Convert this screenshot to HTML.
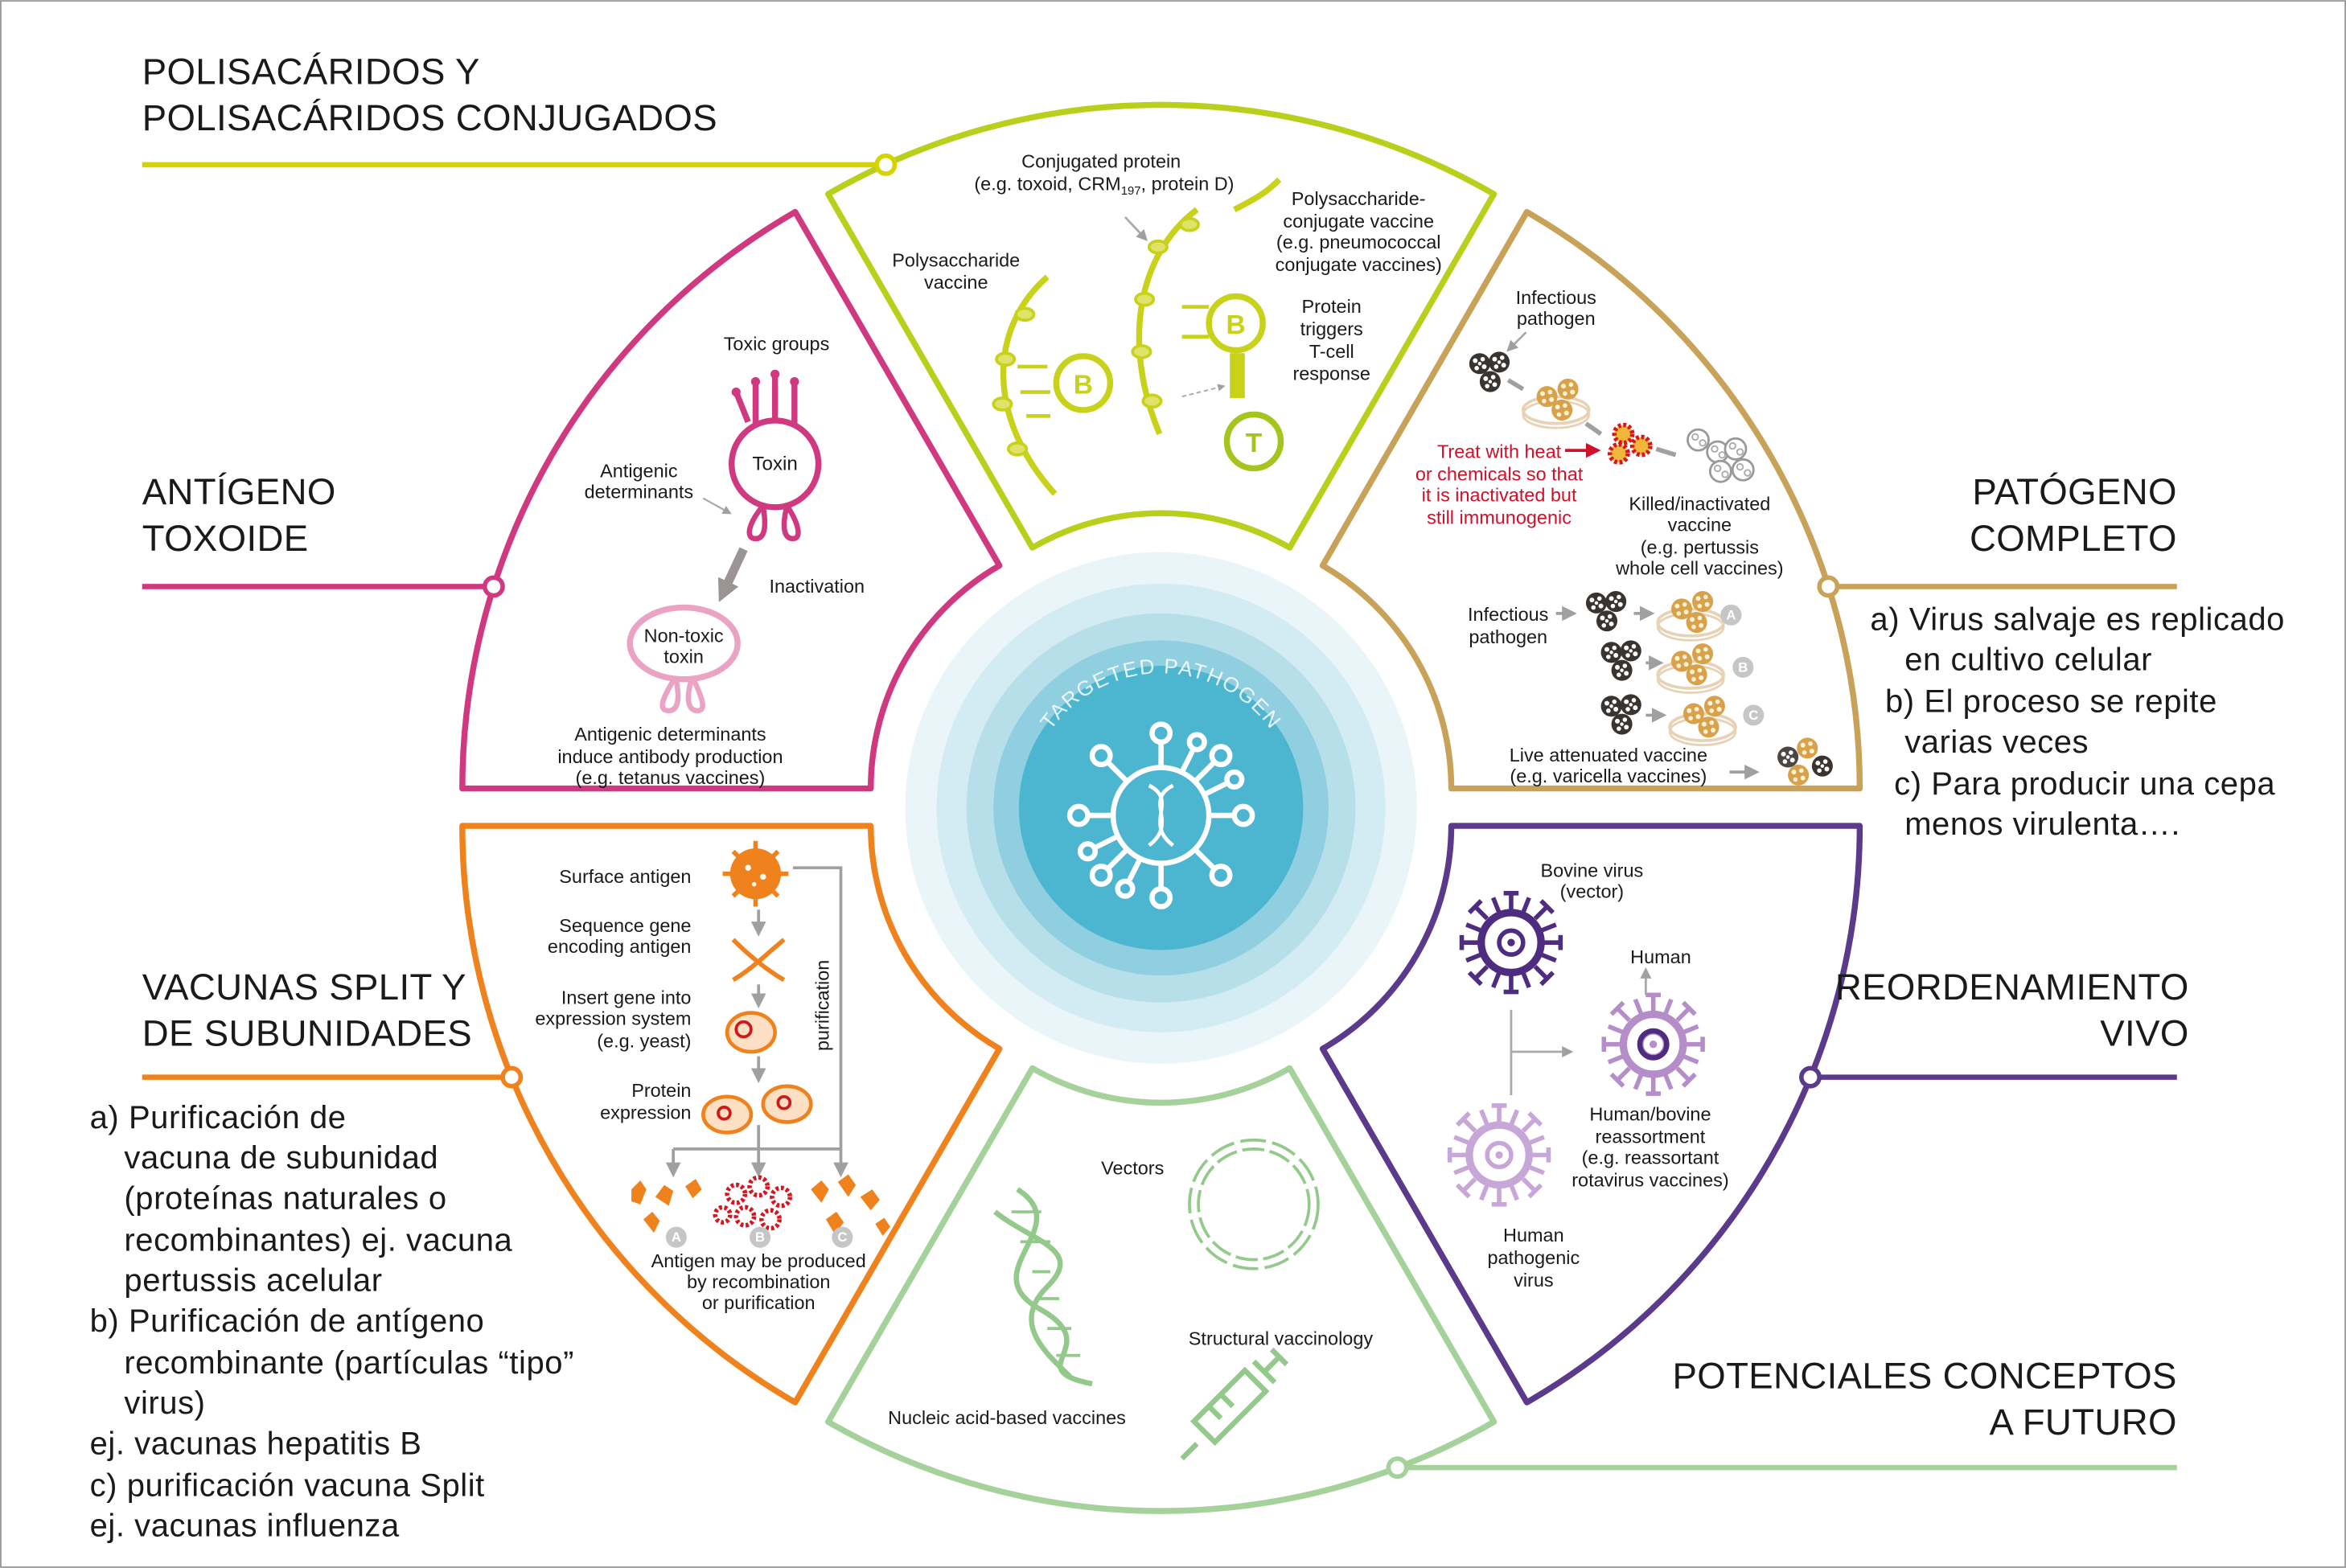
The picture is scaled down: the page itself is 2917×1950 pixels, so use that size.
<!DOCTYPE html>
<html><head><meta charset="utf-8"><style>
html,body{margin:0;padding:0;background:#fff;}
svg{display:block;}
.t{font-family:"Liberation Sans",Arial,sans-serif;font-size:24.5px;fill:#1a1a1a;letter-spacing:0.2px;}
.b{font-family:"Liberation Sans",Arial,sans-serif;font-size:21.5px;fill:#1a1a1a;letter-spacing:0.3px;}
.s{font-family:"Liberation Sans",Arial,sans-serif;font-size:12.6px;fill:#1a1a1a;text-anchor:middle;}
.r{fill:#d0102a;}
</style></head><body>
<svg width="2917" height="1950" viewBox="0 0 1568 1048" xmlns="http://www.w3.org/2000/svg">
<defs>
<g id="ball"><circle r="7" fill="#3a3430"/><circle cx="-3" cy="-2" r="1.6" fill="#fff"/><circle cx="2" cy="-3" r="1.5" fill="#fff"/><circle cx="3" cy="2" r="1.6" fill="#fff"/><circle cx="-2" cy="3" r="1.5" fill="#fff"/><circle cx="0" cy="0" r="1.2" fill="#fff"/></g>
<g id="oball"><circle r="7" fill="#d9a24a"/><circle cx="-3" cy="-2" r="1.6" fill="#fff3d8"/><circle cx="2" cy="-3" r="1.5" fill="#fff3d8"/><circle cx="3" cy="2" r="1.6" fill="#fff3d8"/><circle cx="-2" cy="3" r="1.5" fill="#fff3d8"/></g>
<g id="gball"><circle r="7" fill="#fff" stroke="#9a9a9a" stroke-width="1.5"/><circle cx="-2" cy="-2" r="2" fill="none" stroke="#aaa"/><circle cx="3" cy="2" r="2" fill="none" stroke="#aaa"/></g>
<g id="rball"><circle r="6" fill="#f2b63a" stroke="#d8141e" stroke-width="3" stroke-dasharray="2 1.5"/></g>
<g id="cluster"><use href="#ball" x="-6" y="-5"/><use href="#ball" x="7" y="-6"/><use href="#ball" x="1" y="7"/></g>
<g id="ocluster"><use href="#oball" x="-6" y="-3"/><use href="#oball" x="8" y="-8"/><use href="#oball" x="4" y="6"/></g>
<g id="dish"><ellipse cx="0" cy="6" rx="22" ry="9" fill="none" stroke="#e8d2b6" stroke-width="2"/><ellipse cx="0" cy="9" rx="22" ry="9" fill="none" stroke="#e8d2b6" stroke-width="1.5"/><use href="#ocluster"/></g>
<g id="spiky"><circle r="20" fill="none" stroke="currentColor" stroke-width="5"/><circle r="8" fill="none" stroke="currentColor" stroke-width="3"/><circle r="2.5" fill="currentColor"/>
<g stroke="currentColor" stroke-width="3" fill="none">
<path d="M0-22V-33M-5-33H5"/><path d="M0 22V33M-5 33H5"/><path d="M22 0H33M33-5V5"/><path d="M-22 0H-33M-33-5V5"/>
<path d="M16-16L24-24M20-28L28-20"/><path d="M-16-16L-24-24M-20-28L-28-20"/><path d="M16 16L24 24M20 28L28 20"/><path d="M-16 16L-24 24M-20 28L-28 20"/>
<path d="M8-20L12-30M-8-20L-12-30M8 20L12 30M-8 20L-12 30M20 8L30 12M20-8L30-12M-20 8L-30 12M-20-8L-30-12"/></g></g>
<marker id="ah" viewBox="0 0 10 10" refX="8" refY="5" markerWidth="5" markerHeight="5" orient="auto"><path d="M0 0L10 5L0 10z" fill="#a0a0a0"/></marker>
<marker id="ah2" viewBox="0 0 10 10" refX="6" refY="5" markerWidth="2.5" markerHeight="2.5" orient="auto"><path d="M0 0L10 5L0 10z" fill="#9a9494"/></marker>
<marker id="ahr" viewBox="0 0 10 10" refX="8" refY="5" markerWidth="5" markerHeight="5" orient="auto"><path d="M0 0L10 5L0 10z" fill="#d0102a"/></marker>
<path id="arcT" d="M686,540 A90,90 0 0 1 866,540"/>
</defs>
<rect x="0.5" y="0.5" width="1567" height="1047" fill="#fff" stroke="#9a9a9a" stroke-width="1"/>

<g stroke-width="3.5" fill="none">
<line x1="95" y1="110" x2="586" y2="110" stroke="#d6d400"/>
<line x1="95" y1="392" x2="324" y2="392" stroke="#d0387f"/>
<line x1="95" y1="720" x2="336" y2="720" stroke="#f0821e"/>
<line x1="1228" y1="392" x2="1455" y2="392" stroke="#c9a25a"/>
<line x1="1216" y1="720" x2="1455" y2="720" stroke="#5b3a8c"/>
<line x1="940" y1="981" x2="1455" y2="981" stroke="#a4d29a"/>
</g>

<g fill="none" stroke-width="4" stroke-linejoin="round">
<path d="M553.5,129.6 A445,445 0 0 1 998.5,129.6 L862,366 A172,172 0 0 0 690,366 Z" stroke="#b8cf1c"/>
<path d="M1020.5,141.6 A445,445 0 0 1 1243,527 L970,527 A172,172 0 0 0 884,378 Z" stroke="#c9a25a"/>
<path d="M1243,552 A445,445 0 0 1 1020.5,937.4 L884,701 A172,172 0 0 0 970,552 Z" stroke="#5b3a8c"/>
<path d="M998.5,950.4 A445,445 0 0 1 553.5,950.4 L690,714 A172,172 0 0 0 862,714 Z" stroke="#a4d29a"/>
<path d="M531.5,937.4 A445,445 0 0 1 309,552 L582,552 A172,172 0 0 0 668,701 Z" stroke="#f0821e"/>
<path d="M309,527 A445,445 0 0 1 531.5,141.6 L668,378 A172,172 0 0 0 582,527 Z" stroke="#d0387f"/>
</g>
<g fill="#fff" stroke-width="3">
<circle cx="592" cy="110" r="6" stroke="#d6d400"/>
<circle cx="330" cy="392" r="6" stroke="#d0387f"/>
<circle cx="342" cy="720" r="6" stroke="#f0821e"/>
<circle cx="1222" cy="392" r="6" stroke="#c9a25a"/>
<circle cx="1210" cy="720" r="6" stroke="#5b3a8c"/>
<circle cx="934" cy="981" r="6" stroke="#a4d29a"/>
</g>

<circle cx="776" cy="540" r="171" fill="#eaf5f9"/>
<circle cx="776" cy="540" r="150" fill="#d3ebf2"/>
<circle cx="776" cy="540" r="130" fill="#b7dfea"/>
<circle cx="776" cy="540" r="112" fill="#8fcfe0"/>
<circle cx="776" cy="540" r="95" fill="#4cb6d0"/>
<text class="s" style="fill:#fff;font-size:14px;letter-spacing:1px;opacity:.85"><textPath href="#arcT" startOffset="50%">TARGETED PATHOGEN</textPath></text>
<g stroke="#fff" stroke-width="3.5" fill="none">
<circle cx="776" cy="545" r="32"/>
<path d="M776,513 V497 M776,577 V593 M744,545 H728 M808,545 H824 M753,522 L741,510 M799,522 L811,510 M753,568 L741,580 M799,568 L811,580 M790,516 L797,502 M762,574 L755,588 M805,531 L819,524 M747,559 L733,566"/>
<circle cx="776" cy="490" r="6"/><circle cx="776" cy="600" r="6"/><circle cx="721" cy="545" r="6"/><circle cx="831" cy="545" r="6"/>
<circle cx="736" cy="505" r="6"/><circle cx="816" cy="505" r="6"/><circle cx="736" cy="585" r="6"/><circle cx="816" cy="585" r="6"/>
<circle cx="800" cy="496" r="5"/><circle cx="752" cy="594" r="5"/><circle cx="825" cy="521" r="5"/><circle cx="727" cy="569" r="5"/>
<path d="M768,525 C788,535 764,550 784,565 M784,525 C764,535 788,550 768,565" stroke-width="2.5"/>
</g>

<text class="t" x="95" y="56">POLISACÁRIDOS Y</text>
<text class="t" x="95" y="87">POLISACÁRIDOS CONJUGADOS</text>
<text class="t" x="95" y="337">ANTÍGENO</text>
<text class="t" x="95" y="368">TOXOIDE</text>
<text class="t" x="1455" y="337" text-anchor="end">PATÓGENO</text>
<text class="t" x="1455" y="368" text-anchor="end">COMPLETO</text>
<text class="t" x="95" y="668">VACUNAS SPLIT Y</text>
<text class="t" x="95" y="699">DE SUBUNIDADES</text>
<text class="t" x="1463" y="668" text-anchor="end">REORDENAMIENTO</text>
<text class="t" x="1463" y="699" text-anchor="end">VIVO</text>
<text class="t" x="1455" y="928" text-anchor="end">POTENCIALES CONCEPTOS</text>
<text class="t" x="1455" y="959" text-anchor="end">A FUTURO</text>

<g class="b">
<text x="1250" y="421">a) Virus salvaje es replicado</text>
<text x="1273" y="448">en cultivo celular</text>
<text x="1260" y="476">b) El proceso se repite</text>
<text x="1273" y="503">varias veces</text>
<text x="1266" y="531">c) Para producir una cepa</text>
<text x="1273" y="558">menos virulenta….</text>
</g>
<g class="b">
<text x="60" y="754">a) Purificación de</text>
<text x="83" y="781">vacuna de subunidad</text>
<text x="83" y="808">(proteínas naturales o</text>
<text x="83" y="836">recombinantes) ej. vacuna</text>
<text x="83" y="863">pertussis acelular</text>
<text x="60" y="890">b) Purificación de antígeno</text>
<text x="83" y="918">recombinante (partículas “tipo”</text>
<text x="83" y="945">virus)</text>
<text x="60" y="972">ej. vacunas hepatitis B</text>
<text x="60" y="1000">c) purificación vacuna Split</text>
<text x="60" y="1027">ej. vacunas influenza</text>
</g>

<g class="s">
<text x="736" y="112">Conjugated protein</text>
<text x="738" y="127">(e.g. toxoid, CRM<tspan font-size="8" dy="3">197</tspan><tspan dy="-3">, protein D)</tspan></text>
<text x="908" y="137">Polysaccharide-</text><text x="908" y="152">conjugate vaccine</text><text x="908" y="166">(e.g. pneumococcal</text><text x="908" y="181">conjugate vaccines)</text>
<text x="639" y="178">Polysaccharide</text><text x="639" y="193">vaccine</text>
<text x="890" y="209">Protein</text><text x="890" y="224">triggers</text><text x="890" y="239">T-cell</text><text x="890" y="254">response</text>
</g>
<g fill="none" stroke="#c8d21a" stroke-width="4">
<path d="M700,185 C660,220 660,280 705,330"/>
<path d="M800,140 C760,170 750,230 775,290"/>
<path d="M825,140 C845,130 850,125 855,120"/>
</g>
<g fill="#dfe36a" stroke="#c8d21a" stroke-width="2">
<ellipse cx="685" cy="210" rx="6" ry="4"/><ellipse cx="672" cy="240" rx="6" ry="4"/><ellipse cx="670" cy="270" rx="6" ry="4"/><ellipse cx="680" cy="300" rx="6" ry="4"/>
<ellipse cx="774" cy="165" rx="6" ry="4"/><ellipse cx="765" cy="200" rx="6" ry="4"/><ellipse cx="763" cy="235" rx="6" ry="4"/><ellipse cx="770" cy="268" rx="6" ry="4"/><ellipse cx="795" cy="150" rx="6" ry="4"/>
</g>
<g stroke="#c8d21a" stroke-width="2.5" fill="none"><path d="M680,245 H700 M682,262 H702 M686,278 H702 M790,205 H808 M790,225 H808"/></g>
<circle cx="724" cy="256" r="18" fill="#fff" stroke="#c8d21a" stroke-width="4"/>
<text x="724" y="263" class="s" style="font-size:18px;fill:#c8d21a;font-weight:bold">B</text>
<circle cx="826" cy="216" r="18" fill="#fff" stroke="#c8d21a" stroke-width="4"/>
<text x="826" y="223" class="s" style="font-size:18px;fill:#c8d21a;font-weight:bold">B</text>
<rect x="822" y="236" width="10" height="30" fill="#c8d21a"/>
<circle cx="838" cy="295" r="18" fill="#fff" stroke="#a6c41e" stroke-width="4"/>
<text x="838" y="302" class="s" style="font-size:18px;fill:#a6c41e;font-weight:bold">T</text>
<line x1="790" y1="265" x2="818" y2="258" stroke="#aaa" stroke-dasharray="3 2" marker-end="url(#ah)"/>
<line x1="752" y1="145" x2="766" y2="160" stroke="#aaa" stroke-width="1.5" marker-end="url(#ah)"/>

<g class="s">
<text x="519" y="234">Toxic groups</text>
<text x="427" y="319">Antigenic</text><text x="427" y="333">determinants</text>
<text x="546" y="396">Inactivation</text>
<text x="448" y="495">Antigenic determinants</text><text x="448" y="510">induce antibody production</text><text x="448" y="524">(e.g. tetanus vaccines)</text>
</g>
<g stroke="#d0387f" stroke-width="4" fill="none">
<circle cx="518" cy="310" r="29"/>
<path d="M505,283 V255 M518,281 V250 M531,283 V255 M500,282 L492,262"/>
<path d="M510,338 C500,350 498,360 505,360 C512,360 512,350 510,338 M526,338 C534,350 536,360 530,360 C523,360 523,350 526,338" stroke-width="3.5"/>
</g>
<g fill="#d0387f"><circle cx="505" cy="255" r="3"/><circle cx="518" cy="250" r="3"/><circle cx="531" cy="255" r="3"/><circle cx="492" cy="262" r="3"/></g>
<text x="518" y="314" class="s" style="font-size:13px">Toxin</text>
<line x1="470" y1="333" x2="488" y2="343" stroke="#aaa" stroke-width="1.2" marker-end="url(#ah)"/>
<path d="M497,367 L483,397" stroke="#9a9494" stroke-width="6" marker-end="url(#ah2)"/>
<g stroke="#eaa3c4" stroke-width="4" fill="none">
<ellipse cx="457" cy="430" rx="36" ry="24"/>
<path d="M450,455 C442,468 440,475 447,475 C454,475 454,465 452,455 M464,455 C470,468 472,475 466,475 C459,475 459,465 462,455" stroke-width="3.5"/>
</g>
<text x="457" y="429" class="s">Non-toxic</text><text x="457" y="443" class="s">toxin</text>

<g class="s">
<text x="1040" y="203">Infectious</text><text x="1040" y="217">pathogen</text>
<text x="1136" y="341">Killed/inactivated</text><text x="1136" y="355">vaccine</text><text x="1136" y="370">(e.g. pertussis</text><text x="1136" y="384">whole cell vaccines)</text>
<text x="1008" y="415">Infectious</text><text x="1008" y="430">pathogen</text>
<text x="1075" y="509">Live attenuated vaccine</text><text x="1075" y="523">(e.g. varicella vaccines)</text>
</g>
<g class="s r"><text x="1002" y="306">Treat with heat</text><text x="1002" y="321">or chemicals so that</text><text x="1002" y="335">it is inactivated but</text><text x="1002" y="350">still immunogenic</text></g>
<line x1="1046" y1="301" x2="1068" y2="301" stroke="#d0102a" stroke-width="2" marker-end="url(#ahr)"/>
<line x1="1020" y1="222" x2="1008" y2="234" stroke="#aaa" stroke-width="1.5" marker-end="url(#ah)"/>
<use href="#cluster" x="995" y="248"/>
<use href="#dish" x="1040" y="268"/>
<use href="#rball" x="1085" y="290"/><use href="#rball" x="1082" y="303"/><use href="#rball" x="1097" y="298"/>
<use href="#gball" x="1135" y="294"/><use href="#gball" x="1148" y="302"/><use href="#gball" x="1160" y="300"/><use href="#gball" x="1150" y="315"/><use href="#gball" x="1165" y="314"/>
<g stroke="#a0a0a0" stroke-width="3" fill="none"><path d="M1008,254 L1018,260"/><path d="M1060,283 L1070,290"/><path d="M1107,300 L1120,304"/></g>
<use href="#cluster" x="1073" y="408"/><use href="#dish" x="1130" y="410"/>
<use href="#cluster" x="1083" y="441"/><use href="#dish" x="1130" y="445"/>
<use href="#cluster" x="1083" y="477"/><use href="#dish" x="1138" y="480"/>
<g stroke="#a0a0a0" stroke-width="2" fill="none" marker-end="url(#ah)"><path d="M1040,410 H1052"/><path d="M1092,410 H1104"/><path d="M1100,443 H1110"/><path d="M1100,478 H1112"/><path d="M1156,516 H1174"/></g>
<g fill="#c6c6c6"><circle cx="1157" cy="411" r="7"/><circle cx="1165" cy="446" r="7"/><circle cx="1172" cy="478" r="7"/></g>
<g class="s" style="fill:#fff;font-size:9px;font-weight:bold"><text x="1157" y="414">A</text><text x="1165" y="449">B</text><text x="1172" y="481">C</text></g>
<use href="#ball" x="1195" y="506" style="opacity:.9"/><use href="#oball" x="1208" y="500"/><use href="#ball" x="1218" y="512"/><use href="#oball" x="1202" y="518"/>

<g class="s">
<text x="1064" y="586">Bovine virus</text><text x="1064" y="600">(vector)</text>
<text x="1110" y="644">Human</text>
<text x="1103" y="749">Human/bovine</text><text x="1103" y="764">reassortment</text><text x="1103" y="778">(e.g. reassortant</text><text x="1103" y="793">rotavirus vaccines)</text>
<text x="1025" y="830">Human</text><text x="1025" y="845">pathogenic</text><text x="1025" y="860">virus</text>
</g>
<use href="#spiky" x="1010" y="630" style="color:#4e2d80"/>
<use href="#spiky" x="1105" y="698" style="color:#b58ec9"/>
<circle cx="1105" cy="698" r="9" fill="none" stroke="#4e2d80" stroke-width="3.5"/>
<use href="#spiky" x="1002" y="772" style="color:#c7a6d8"/>
<g stroke="#aaa" stroke-width="1.5" fill="none"><path d="M1010,675 V732 M1010,703 H1050" marker-end="url(#ah)"/><path d="M1100,665 V648" marker-end="url(#ah)"/></g>

<g class="s"><text x="757" y="785">Vectors</text><text x="856" y="899">Structural vaccinology</text><text x="673" y="952">Nucleic acid-based vaccines</text></g>
<g stroke="#93c98a" stroke-width="3.5" fill="none">
<path d="M680,795 C720,820 650,850 695,875 C740,900 680,915 730,925"/>
<path d="M665,810 C690,830 725,835 700,860 C675,885 700,905 715,920"/>
<path d="M676,810 H696 M682,830 H702 M690,850 H702 M692,868 H708 M700,888 H716 M706,906 H722" stroke-width="2"/>
<circle cx="838" cy="805" r="40" stroke-width="8" stroke-dasharray="16 4"/>
<circle cx="838" cy="805" r="40" stroke="#fff" stroke-width="4" stroke-dasharray="16 4"/>
<path d="M790,975 L800,965 M798,950 L832,916 L846,930 L812,964 Z M838,910 L852,924 M845,917 L855,907 M850,902 L860,912 M808,940 L816,948 M816,932 L824,940"/>
</g>

<g class="s" style="text-anchor:end">
<text x="462" y="590">Surface antigen</text>
<text x="462" y="623">Sequence gene</text><text x="462" y="637">encoding antigen</text>
<text x="462" y="671">Insert gene into</text><text x="462" y="685">expression system</text><text x="462" y="700">(e.g. yeast)</text>
<text x="462" y="733">Protein</text><text x="462" y="748">expression</text>
</g>
<g class="s"><text x="507" y="847">Antigen may be produced</text><text x="507" y="861">by recombination</text><text x="507" y="875">or purification</text></g>
<text x="554" y="672" class="s" transform="rotate(-90 554 672)">purification</text>
<circle cx="505" cy="584" r="17" fill="#f0821e"/>
<g stroke="#f0821e" stroke-width="3"><path d="M505,562 V606 M483,584 H527 M490,569 L520,599 M520,569 L490,599"/></g>
<circle cx="505" cy="584" r="14" fill="#f0821e"/>
<g fill="#fff"><circle cx="500" cy="580" r="2"/><circle cx="510" cy="586" r="2"/><circle cx="504" cy="591" r="1.5"/></g>
<path d="M490,628 C500,638 512,648 524,655 M490,655 C502,648 512,638 524,628" stroke="#f0821e" stroke-width="3" fill="none"/>
<ellipse cx="502" cy="690" rx="16" ry="13" fill="#fde0c4" stroke="#f0821e" stroke-width="2.5"/>
<circle cx="497" cy="688" r="5" fill="none" stroke="#d01818" stroke-width="2"/>
<ellipse cx="486" cy="745" rx="16" ry="12" fill="#fde0c4" stroke="#f0821e" stroke-width="2.5"/>
<ellipse cx="526" cy="738" rx="16" ry="12" fill="#fde0c4" stroke="#f0821e" stroke-width="2.5"/>
<circle cx="484" cy="744" r="4" fill="none" stroke="#d01818" stroke-width="2"/><circle cx="524" cy="737" r="4" fill="none" stroke="#d01818" stroke-width="2"/>
<g stroke="#a0a0a0" stroke-width="2" fill="none">
<path d="M507,608 V624" marker-end="url(#ah)"/><path d="M507,658 V672" marker-end="url(#ah)"/><path d="M507,706 V722" marker-end="url(#ah)"/>
<path d="M530,580 H562 V785" marker-end="url(#ah)"/>
<path d="M507,752 V785" marker-end="url(#ah)"/>
<path d="M450,768 H562 M450,768 V785" marker-end="url(#ah)"/>
</g>
<g fill="#f0821e">
<path d="M422,795 l6,-6 l4,6 l-4,10 l-6,-2z"/><path d="M438,800 l6,-8 l6,4 l-3,10z"/><path d="M458,793 l7,-5 l4,7 l-6,6z"/><path d="M430,815 l6,-5 l5,6 l-4,8z"/>
<path d="M542,795 l7,-6 l5,6 l-5,9z"/><path d="M560,790 l7,-5 l5,7 l-5,8z"/><path d="M575,800 l8,-5 l5,7 l-6,7z"/><path d="M552,815 l7,-5 l5,7 l-6,8z"/><path d="M585,818 l6,-4 l4,6 l-5,6z"/>
</g>
<g fill="none" stroke="#d8141e" stroke-width="3" stroke-dasharray="2 1.5">
<circle cx="492" cy="798" r="6"/><circle cx="507" cy="793" r="6"/><circle cx="522" cy="800" r="6"/><circle cx="498" cy="813" r="6"/><circle cx="515" cy="815" r="6"/><circle cx="483" cy="812" r="5"/>
</g>
<g fill="#c6c6c6"><circle cx="452" cy="827" r="7"/><circle cx="508" cy="827" r="7"/><circle cx="563" cy="827" r="7"/></g>
<g class="s" style="fill:#fff;font-size:9px;font-weight:bold"><text x="452" y="830">A</text><text x="508" y="830">B</text><text x="563" y="830">C</text></g>
</svg>
</body></html>
